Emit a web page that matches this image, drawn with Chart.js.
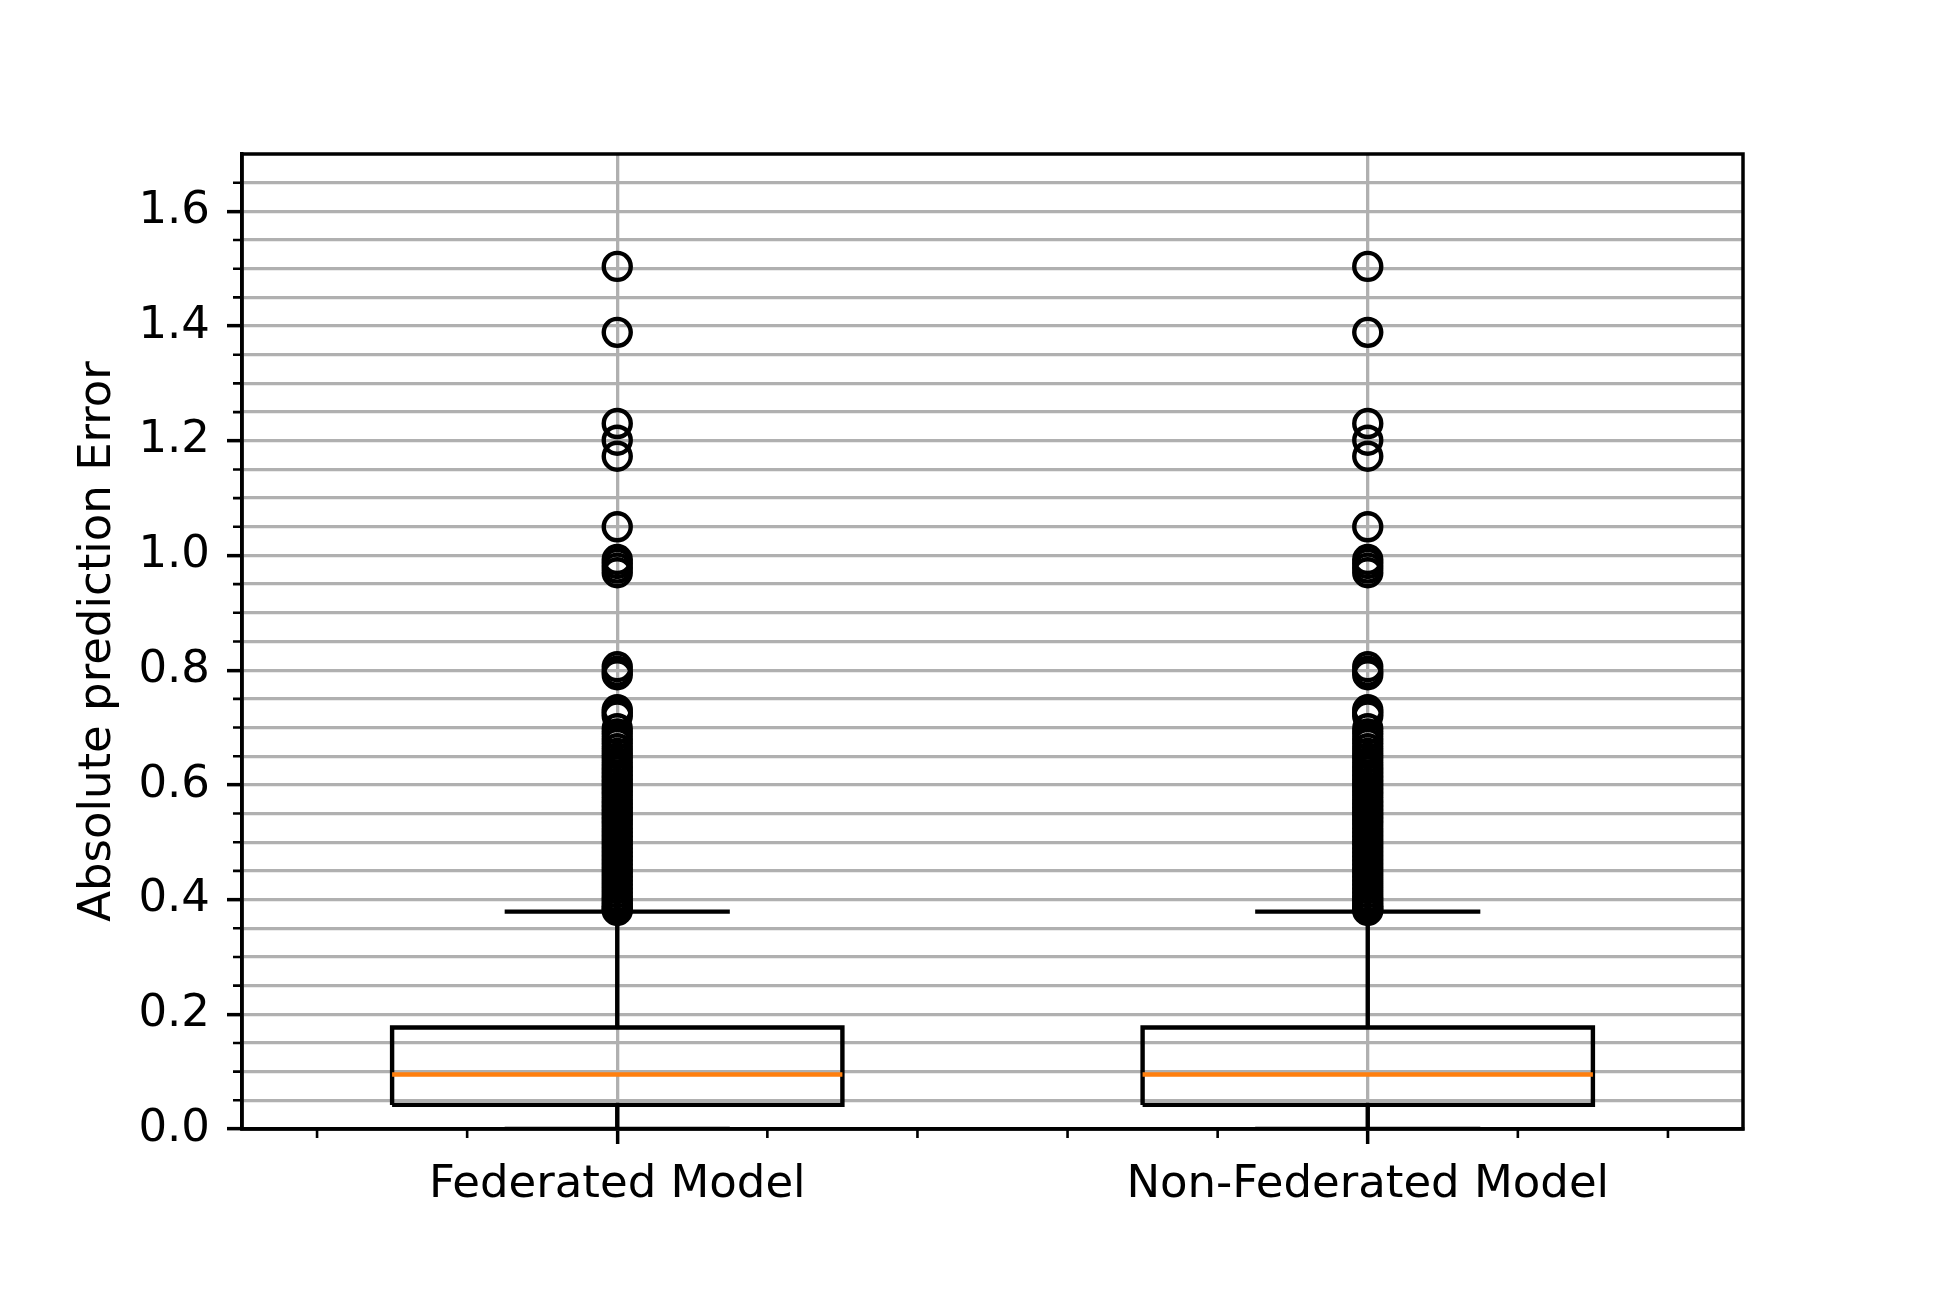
<!DOCTYPE html>
<html>
<head>
<meta charset="utf-8">
<script src="https://cdn.jsdelivr.net/npm/chart.js@4.4.1/dist/chart.umd.min.js"></script>
<style>
  html, body { margin: 0; padding: 0; background: #fff; }
  canvas { display: block; }
</style>
</head>
<body>
<canvas id="mycanvas" width="1937" height="1292"></canvas>
<script>
// box plot values
var categories = ['Federated Model', 'Non-Federated Model'];
var positions = [1, 2];
var q1 = [0.042, 0.042];
var medians = [0.095, 0.095];
var q3 = [0.177, 0.177];
var whiskerLow = [0.0, 0.0];
var whiskerHigh = [0.379, 0.379];

var outliersFederated = [1.504, 1.389, 1.230, 1.201, 1.173, 1.050, 0.993, 0.986, 0.978, 0.970,
  0.806, 0.798, 0.792, 0.731, 0.726, 0.720, 0.698, 0.689, 0.680, 0.672, 0.663, 0.655, 0.647,
  0.639, 0.631, 0.624, 0.617, 0.610, 0.603, 0.596, 0.589, 0.582, 0.574, 0.567, 0.560, 0.553,
  0.546, 0.539, 0.532, 0.524, 0.517, 0.510, 0.503, 0.496, 0.489, 0.482, 0.475, 0.468, 0.461,
  0.454, 0.447, 0.440, 0.433, 0.426, 0.419, 0.412, 0.405, 0.399, 0.393, 0.388, 0.384, 0.381];
var outliersNonFederated = [1.504, 1.389, 1.230, 1.201, 1.173, 1.050, 0.993, 0.986, 0.978, 0.970,
  0.806, 0.798, 0.792, 0.731, 0.726, 0.720, 0.698, 0.689, 0.680, 0.672, 0.663, 0.655, 0.647,
  0.639, 0.631, 0.624, 0.617, 0.610, 0.603, 0.596, 0.589, 0.582, 0.574, 0.567, 0.560, 0.553,
  0.546, 0.539, 0.532, 0.524, 0.517, 0.510, 0.503, 0.496, 0.489, 0.482, 0.475, 0.468, 0.461,
  0.454, 0.447, 0.440, 0.433, 0.426, 0.419, 0.412, 0.405, 0.399, 0.393, 0.388, 0.384, 0.381];
var outliers = [outliersFederated, outliersNonFederated];

// ticks
var yMajorTicks = [0, 0.2, 0.4, 0.6, 0.8, 1.0, 1.2, 1.4, 1.6];
var xTicks = [0.6, 0.8, 1.0, 1.2, 1.4, 1.6, 1.8, 2.0, 2.2, 2.4];
var yTicks = [];
for (var k = 0; k <= 33; k++) yTicks.push(Math.round(k * 5) / 100);

var BOX_HALF = 0.3;
var CAP_HALF = 0.15;
var GRID = '#b0b0b0';
var LW = 4.4;
var FONT = { family: 'DejaVu Sans', size: 45, lineHeight: 1.2 };

function isMajorY(v) {
  for (var i = 0; i < yMajorTicks.length; i++) if (Math.abs(v - yMajorTicks[i]) < 1e-6) return true;
  return false;
}
function catIndex(v) {
  for (var i = 0; i < positions.length; i++) if (Math.abs(v - positions[i]) < 1e-6) return i;
  return -1;
}

// build line segments from the stats (null y = gap)
var boxPts = [], medPts = [], whiskPts = [], outPts = [];
for (var i = 0; i < categories.length; i++) {
  var c = positions[i];
  boxPts.push({x: c - BOX_HALF, y: q1[i]}, {x: c + BOX_HALF, y: q1[i]}, {x: c + BOX_HALF, y: q3[i]},
    {x: c - BOX_HALF, y: q3[i]}, {x: c - BOX_HALF, y: q1[i]}, {x: c, y: null});
  medPts.push({x: c - BOX_HALF, y: medians[i]}, {x: c + BOX_HALF, y: medians[i]}, {x: c, y: null});
  whiskPts.push({x: c, y: q1[i]}, {x: c, y: whiskerLow[i]}, {x: c, y: null},
    {x: c - CAP_HALF, y: whiskerLow[i]}, {x: c + CAP_HALF, y: whiskerLow[i]}, {x: c, y: null},
    {x: c, y: q3[i]}, {x: c, y: whiskerHigh[i]}, {x: c, y: null},
    {x: c - CAP_HALF, y: whiskerHigh[i]}, {x: c + CAP_HALF, y: whiskerHigh[i]}, {x: c, y: null});
  for (var j = 0; j < outliers[i].length; j++) outPts.push({x: c, y: outliers[i][j]});
}

// frame + minor tick marks
var framePlugin = {
  id: 'frame',
  afterDraw: function(chart) {
    var ctx = chart.ctx, a = chart.chartArea;
    var xs = chart.scales.x, ys = chart.scales.y;
    ctx.save();
    ctx.strokeStyle = '#000';
    ctx.lineWidth = 2.6;
    ctx.beginPath();
    yTicks.forEach(function(v) {
      if (isMajorY(v)) return;
      var py = ys.getPixelForValue(v);
      ctx.moveTo(a.left - 9, py); ctx.lineTo(a.left, py);
    });
    xTicks.forEach(function(v) {
      if (catIndex(v) >= 0) return;
      var px = xs.getPixelForValue(v);
      ctx.moveTo(px, a.bottom); ctx.lineTo(px, a.bottom + 9);
    });
    ctx.stroke();
    ctx.lineWidth = 3.5;
    ctx.strokeRect(a.left, a.top, a.right - a.left, a.bottom - a.top);
    ctx.restore();
  }
};

var ctx = document.getElementById('mycanvas');

var boxChart = new Chart(ctx, {
  type: 'scatter',
  data: {
    datasets: [
      {
        label: 'outliers',
        data: outPts,
        pointStyle: 'circle',
        pointRadius: 13.5,
        pointBorderWidth: LW,
        pointBorderColor: '#000',
        pointBackgroundColor: 'rgba(0,0,0,0)'
      },
      {
        type: 'line', label: 'median', data: medPts, showLine: true, spanGaps: false,
        borderColor: '#ff7f0e', borderWidth: LW, pointRadius: 0, fill: false, tension: 0
      },
      {
        type: 'line', label: 'box', data: boxPts, showLine: true, spanGaps: false,
        borderColor: '#000', borderWidth: LW, borderJoinStyle: 'miter', pointRadius: 0, fill: false, tension: 0
      },
      {
        type: 'line', label: 'whiskers', data: whiskPts, showLine: true, spanGaps: false,
        borderColor: '#000', borderWidth: LW, pointRadius: 0, fill: false, tension: 0
      }
    ]
  },
  options: {
    responsive: false,
    devicePixelRatio: 1,
    animation: false,
    events: [],
    layout: { padding: { top: 154, right: 194, left: 0, bottom: 0 } },
    plugins: { legend: { display: false }, tooltip: { enabled: false } },
    scales: {
      x: {
        type: 'linear',
        min: 0.5,
        max: 2.5,
        afterBuildTicks: function(s) { s.ticks = xTicks.map(function(v) { return {value: v}; }); },
        afterFit: function(s) { s.height = 163; },
        grid: {
          color: function(c) { return catIndex(c.tick.value) >= 0 ? GRID : 'rgba(0,0,0,0)'; },
          lineWidth: 3.3,
          tickLength: 15,
          tickWidth: 3.5,
          tickColor: function(c) { return catIndex(c.tick.value) >= 0 ? '#000' : 'rgba(0,0,0,0)'; }
        },
        border: { color: '#000', width: 3.5 },
        ticks: {
          autoSkip: false, maxRotation: 0, padding: 14, color: '#000', font: FONT,
          callback: function(v) { var n = catIndex(v); return n >= 0 ? categories[n] : ''; }
        }
      },
      y: {
        type: 'linear',
        min: 0,
        max: 1.7,
        afterBuildTicks: function(s) { s.ticks = yTicks.map(function(v) { return {value: v}; }); },
        afterFit: function(s) { s.width = 242; },
        grid: {
          color: GRID,
          lineWidth: 3.3,
          tickLength: 15,
          tickWidth: 3.5,
          tickColor: function(c) { return isMajorY(c.tick.value) ? '#000' : 'rgba(0,0,0,0)'; }
        },
        border: { color: '#000', width: 3.5 },
        ticks: {
          autoSkip: false, padding: 17, color: '#000', font: FONT,
          callback: function(v) { return isMajorY(v) ? v.toFixed(1) : ''; }
        },
        title: {
          display: true, text: 'Absolute prediction Error', color: '#000', font: FONT,
          padding: { top: 71, bottom: 0 }
        }
      }
    }
  },
  plugins: [framePlugin]
});
</script>
</body>
</html>
